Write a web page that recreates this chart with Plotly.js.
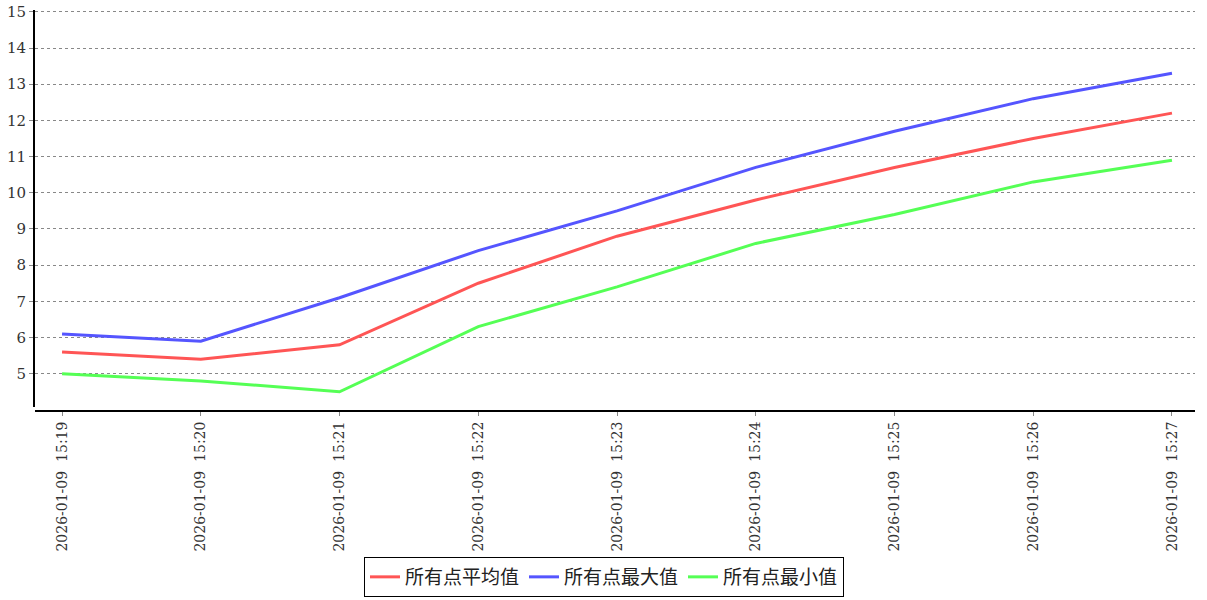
<!DOCTYPE html>
<html>
<head>
<meta charset="utf-8">
<script src="https://cdn.plot.ly/plotly-3.0.1.min.js"></script>
<style>body{margin:0;background:#fff}#chart{width:1207px;height:600px}</style>
</head>
<body>
<div id="chart"></div>
<script>
const categories = ["2026-01-09  15:19","2026-01-09  15:20","2026-01-09  15:21","2026-01-09  15:22","2026-01-09  15:23","2026-01-09  15:24","2026-01-09  15:25","2026-01-09  15:26","2026-01-09  15:27"];
const avgValues = [5.6, 5.4, 5.8, 7.5, 8.8, 9.8, 10.7, 11.5, 12.2];
const maxValues = [6.1, 5.9, 7.1, 8.4, 9.5, 10.7, 11.7, 12.6, 13.3];
const minValues = [5.0, 4.8, 4.5, 6.3, 7.4, 8.6, 9.4, 10.3, 10.9];
const seriesNames = ["所有点平均值","所有点最大值","所有点最小值"];
const yTicks = [5,6,7,8,9,10,11,12,13,14,15];

const font = "DejaVu Serif, 'Noto Sans CJK SC', serif";
const mk = (name, y, color) => ({
  type: 'scatter', mode: 'lines', name: name, x: categories, y: y,
  line: {color: color, width: 3}
});
const data = [
  mk(seriesNames[0], avgValues, '#FF5555'),
  mk(seriesNames[1], maxValues, '#5555FF'),
  mk(seriesNames[2], minValues, '#55FF55')
];
const layout = {
  width: 1207, height: 600,
  margin: {l: 35, r: 12, t: 10, b: 189, autoexpand: false},
  paper_bgcolor: '#fff', plot_bgcolor: '#fff',
  font: {family: font, color: '#333', size: 14},
  showlegend: true,
  legend: {
    orientation: 'h', x: 0.4905, xanchor: 'center',
    yref: 'container', y: 0.005, yanchor: 'bottom',
    bordercolor: '#000', borderwidth: 1,
    font: {family: "'Noto Sans CJK SC', sans-serif", size: 19, color: '#222'},
    itemwidth: 30, tracegroupgap: 0
  },
  xaxis: {
    type: 'category', range: [-0.195, 8.166],
    showgrid: false, zeroline: false, automargin: false,
    showline: true, linecolor: '#000', linewidth: 2,
    ticks: 'outside', ticklen: 4, tickcolor: '#888',
    tickangle: -90, tickfont: {family: font, size: 14, color: '#333'},
    anchor: 'free', position: 0
  },
  yaxis: {
    domain: [0.01, 1], automargin: false,
    range: [4.08, 15.05],
    tickvals: yTicks, ticktext: yTicks.map(String),
    showgrid: true, gridcolor: '#888', griddash: 'dot', gridwidth: 1,
    zeroline: false,
    showline: true, linecolor: '#000', linewidth: 2,
    ticks: 'outside', ticklen: 4, tickcolor: '#888',
    tickfont: {family: font, size: 15, color: '#333'}
  }
};
Plotly.newPlot('chart', data, layout, {displayModeBar: false, staticPlot: true});
</script>
</body>
</html>
